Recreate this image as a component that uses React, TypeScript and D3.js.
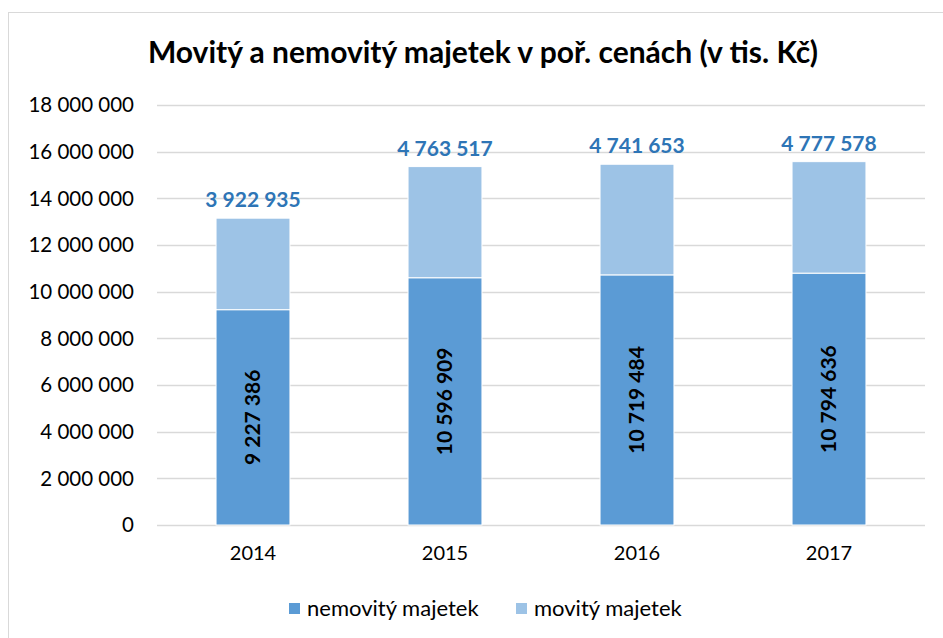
import React, { useRef, useEffect } from "react";
import * as d3 from "d3";

// data
const years = ["2014", "2015", "2016", "2017"];
const nemovity = [9227386, 10596909, 10719484, 10794636];
const movity = [3922935, 4763517, 4741653, 4777578];
const seriesNames = ["nemovitý majetek", "movitý majetek"];
const yTicks = [0, 2000000, 4000000, 6000000, 8000000, 10000000, 12000000, 14000000, 16000000, 18000000];

const W = 943;
const H = 638;
const FONT = "Lato, 'Open Sans', sans-serif";
const DARK = "#5B9BD5";
const LIGHT = "#9DC3E6";
const LABEL_BLUE = "#2E75B6";

// numbers with space as thousands separator
const fmt = (v: number) => d3.format(",")(v).replace(/,/g, " ");

function App() {
  const svgRef = useRef<SVGSVGElement>(null);

  useEffect(() => {
    const svg = d3.select(svgRef.current);
    svg.selectAll("*").remove();

    const margin = { top: 105, right: 18, bottom: 113, left: 157 };

    // chart frame
    svg
      .append("rect")
      .attr("x", 8.5)
      .attr("y", 12.5)
      .attr("width", W)
      .attr("height", H)
      .attr("fill", "#fff")
      .attr("stroke", "#D9D9D9");

    const x = d3
      .scaleBand()
      .domain(years)
      .range([margin.left, W - margin.right])
      .paddingInner(0.615)
      .paddingOuter(0.3075);

    const y = d3
      .scaleLinear()
      .domain([0, 18000000])
      .range([H - margin.bottom, margin.top]);

    // gridlines
    svg
      .append("g")
      .selectAll("line")
      .data(yTicks)
      .enter()
      .append("line")
      .attr("x1", margin.left)
      .attr("x2", W - margin.right)
      .attr("y1", (d) => Math.round(y(d)) + 0.5)
      .attr("y2", (d) => Math.round(y(d)) + 0.5)
      .attr("stroke", "#D9D9D9")
      .attr("stroke-width", 1.5);

    // y axis labels
    svg
      .append("g")
      .selectAll("text")
      .data(yTicks)
      .enter()
      .append("text")
      .attr("x", 134)
      .attr("y", (d) => y(d))
      .attr("dy", "0.35em")
      .attr("text-anchor", "end")
      .attr("font-family", FONT)
      .attr("font-size", 20.5)
      .attr("fill", "#000")
      .text((d) => fmt(d));

    // stacked bars
    const rows = years.map((yr, i) => ({ yr, a: nemovity[i], b: movity[i] }));
    const bw = x.bandwidth();

    const g = svg.append("g");
    g.selectAll(".dark")
      .data(rows)
      .enter()
      .append("rect")
      .attr("class", "dark")
      .attr("x", (d) => x(d.yr)!)
      .attr("y", (d) => y(d.a))
      .attr("width", bw)
      .attr("height", (d) => y(0) - y(d.a))
      .attr("fill", DARK)
      .attr("stroke", "#fff")
      .attr("stroke-width", 1);

    g.selectAll(".light")
      .data(rows)
      .enter()
      .append("rect")
      .attr("class", "light")
      .attr("x", (d) => x(d.yr)!)
      .attr("y", (d) => y(d.a + d.b))
      .attr("width", bw)
      .attr("height", (d) => y(d.a) - y(d.a + d.b))
      .attr("fill", LIGHT)
      .attr("stroke", "#fff")
      .attr("stroke-width", 1);

    // labels inside the dark part (rotated)
    g.selectAll(".inLabel")
      .data(rows)
      .enter()
      .append("text")
      .attr("class", "inLabel")
      .attr("transform", (d) => {
        const cx = x(d.yr)! + bw / 2;
        const cy = (y(0) + y(d.a)) / 2;
        return `translate(${cx},${cy}) rotate(-90)`;
      })
      .attr("text-anchor", "middle")
      .attr("dy", "0.35em")
      .attr("font-family", FONT)
      .attr("font-weight", "bold")
      .attr("font-size", 21)
      .attr("fill", "#000")
      .text((d) => fmt(d.a));

    // labels above bars
    g.selectAll(".topLabel")
      .data(rows)
      .enter()
      .append("text")
      .attr("class", "topLabel")
      .attr("x", (d) => x(d.yr)! + bw / 2)
      .attr("y", (d) => y(d.a + d.b) - 11)
      .attr("text-anchor", "middle")
      .attr("font-family", FONT)
      .attr("font-weight", "bold")
      .attr("font-size", 21)
      .attr("fill", LABEL_BLUE)
      .text((d) => fmt(d.b));

    // x axis labels
    svg
      .append("g")
      .selectAll("text")
      .data(years)
      .enter()
      .append("text")
      .attr("x", (d) => x(d)! + bw / 2)
      .attr("y", 553)
      .attr("dy", "0.35em")
      .attr("text-anchor", "middle")
      .attr("font-family", FONT)
      .attr("font-size", 20)
      .attr("fill", "#000")
      .text((d) => d);

    // title
    svg
      .append("text")
      .attr("x", 483)
      .attr("y", 52)
      .attr("dy", "0.35em")
      .attr("text-anchor", "middle")
      .attr("font-family", FONT)
      .attr("font-weight", "bold")
      .attr("font-size", 30)
      .attr("fill", "#000")
      .text("Movitý a nemovitý majetek v poř. cenách (v tis. Kč)");

    // legend
    const legendX = [289, 516];
    const colors = [DARK, LIGHT];
    const lg = svg.append("g");
    seriesNames.forEach((name, i) => {
      lg.append("rect")
        .attr("x", legendX[i])
        .attr("y", 603)
        .attr("width", 11)
        .attr("height", 11)
        .attr("fill", colors[i]);
      lg.append("text")
        .attr("x", legendX[i] + 18)
        .attr("y", 608)
        .attr("dy", "0.35em")
        .attr("font-family", FONT)
        .attr("font-size", 22)
        .attr("fill", "#000")
        .text(name);
    });
  }, []);

  return (
    <div style={{ position: "absolute", left: 0, top: 0 }}>
      <svg ref={svgRef} width={W} height={H} style={{ display: "block" }} />
    </div>
  );
}

export default App;
